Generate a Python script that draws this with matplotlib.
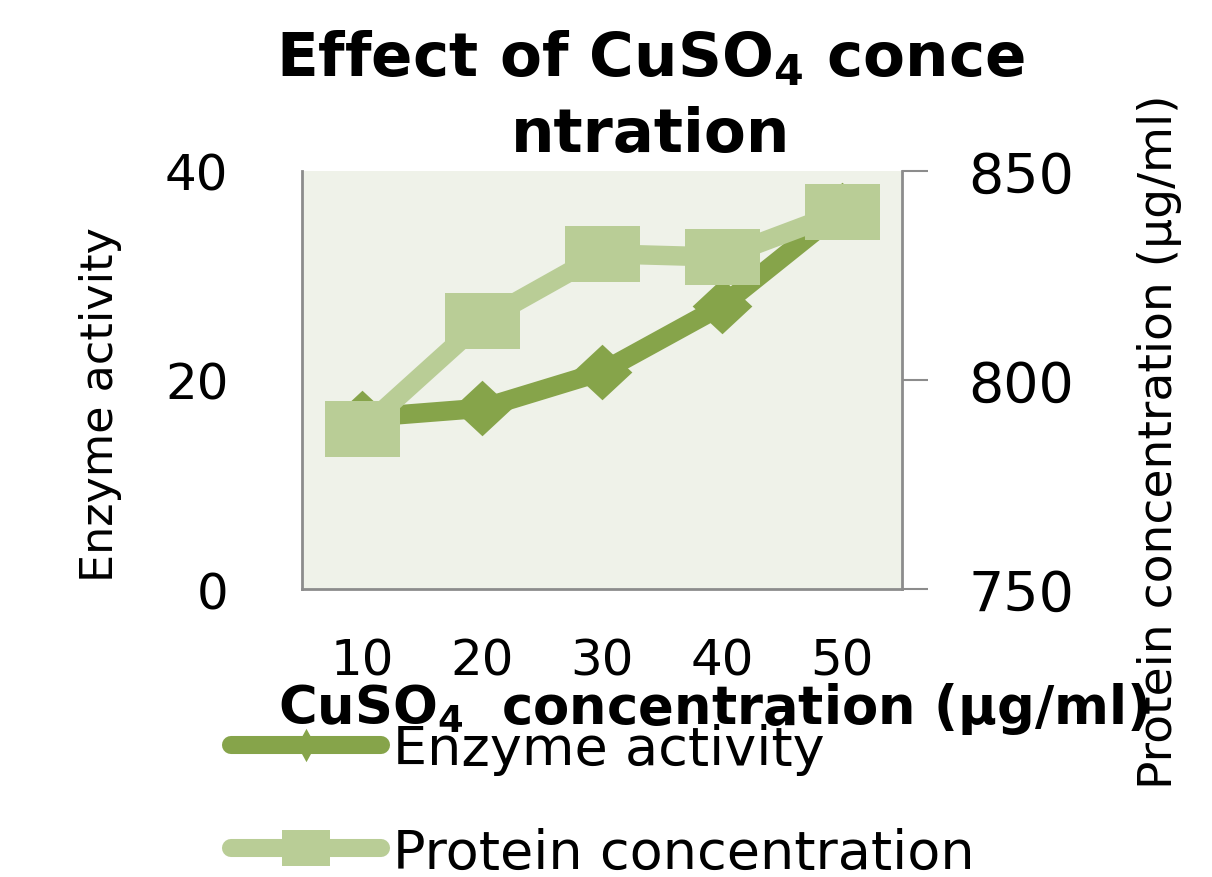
import matplotlib
matplotlib.use("Agg")
import matplotlib.pyplot as plt
from matplotlib.lines import Line2D

# data
conc = ["10", "20", "30", "40", "50"]
enzyme = [16.4, 17.3, 20.8, 27.1, 36.3]
protein = [788.2, 814.1, 830.2, 829.4, 840.2]

dark = "#86a44a"
light = "#b9cd96"
grey = "#8c8c8c"

# the source picture is stretched sideways, so the markers are a bit wider than tall
box = [(-1, -0.75), (1, -0.75), (1, 0.75), (-1, 0.75), (-1, -0.75)]
lozenge = [(-1, 0), (0, 0.93), (1, 0), (0, -0.93), (-1, 0)]
thin_lozenge = [(-0.55, 0), (0, 1), (0.55, 0), (0, -1), (-0.55, 0)]

plt.rcParams["mathtext.fontset"] = "dejavusans"

fig = plt.figure(figsize=(12.12, 8.78), dpi=100)
ax = fig.add_axes([302 / 1212, 1 - 590 / 878, 600 / 1212, 418 / 878])
ax.set_facecolor("#eff2e9")
x = list(range(len(conc)))

ax.plot(x, enzyme, color=dark, lw=14, marker=lozenge, ms=43, mew=0,
        solid_capstyle="round", solid_joinstyle="round")
ax.set_ylim(0, 40)
ax.set_yticks([0, 20, 40])
ax.set_xlim(-0.5, 4.5)
ax.set_xticks(x)
ax.set_xticklabels(conc)
ax.tick_params(axis="both", length=0, labelsize=36)
ax.tick_params(axis="x", pad=34)
ax.tick_params(axis="y", pad=53)

ax2 = ax.twinx()
ax2.plot(x, protein, color=light, lw=14, marker=box, ms=54, mew=0,
         solid_capstyle="round", solid_joinstyle="round")
ax2.set_ylim(750, 850)
ax2.set_yticks([750, 800, 850])
ax2.tick_params(axis="y", length=19, width=1.5, color=grey, labelsize=40, pad=29)

for a in (ax, ax2):
    for s in a.spines.values():
        s.set_visible(False)
ax.spines["left"].set_visible(True)
ax.spines["bottom"].set_visible(True)
ax2.spines["right"].set_visible(True)
for s in (ax.spines["left"], ax.spines["bottom"], ax2.spines["right"]):
    s.set_color(grey)
    s.set_linewidth(2)

# axis titles
ax.set_ylabel("Enzyme activity", fontsize=32)
ax.yaxis.set_label_coords(-0.336, 0.443)
ax.yaxis.label.set_va("center")

ax.set_xlabel(r"CuSO$_\mathbf{4}$  concentration (µg/ml)", fontsize=38,
              fontweight="bold", ha="left")
ax.xaxis.set_label_coords(-0.04, -0.32)
ax.xaxis.label.set_va("baseline")

ax2.set_ylabel("Protein concentration (µg/ml)", fontsize=34, rotation=90)
ax2.yaxis.set_label_coords(1.43, 0.354)
ax2.yaxis.label.set_va("center")
ax2.yaxis.label.set_ha("center")

# title, wrapped like the source; anchored on the baseline of its last line
ax.text(0.581, 1.048, "Effect of CuSO$_\\mathbf{4}$ conce\nntration",
        transform=ax.transAxes, ha="center", va="baseline",
        fontsize=44, fontweight="bold", linespacing=1.36)

handles = [
    Line2D([], [], color=dark, lw=13, marker=thin_lozenge, ms=24, mew=0,
           solid_capstyle="round"),
    Line2D([], [], color=light, lw=13, marker=box, ms=34, mew=0,
           solid_capstyle="round"),
]
fig.legend(handles, ["Enzyme activity", "Protein concentration"],
           loc="upper left", bbox_to_anchor=(231 / 1212, 1 - 724 / 878),
           frameon=False, fontsize=39, handlelength=2.77, handletextpad=0.22,
           labelspacing=0.95, borderpad=0, borderaxespad=0)

fig.savefig("out.png", dpi=100)
